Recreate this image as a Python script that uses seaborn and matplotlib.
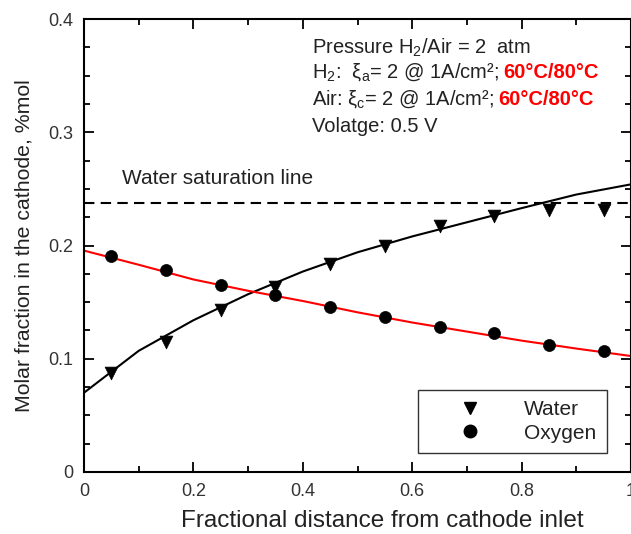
import numpy as np
import pandas as pd
import matplotlib
matplotlib.use("Agg")
import matplotlib.pyplot as plt
import seaborn as sns
from matplotlib.lines import Line2D

# ---- data ----
x_points = [0.05, 0.15, 0.25, 0.35, 0.45, 0.55, 0.65, 0.75, 0.85, 0.95]
water_pts = [0.087, 0.115, 0.143, 0.163, 0.184, 0.200, 0.217, 0.226, 0.231, 0.231]
oxygen_pts = [0.191, 0.178, 0.165, 0.156, 0.146, 0.137, 0.128, 0.123, 0.112, 0.107]

x_line = [0.0, 0.1, 0.2, 0.3, 0.4, 0.5, 0.6, 0.7, 0.8, 0.9, 1.0]
water_line = [0.070, 0.107, 0.134, 0.157, 0.177, 0.194, 0.208, 0.2205, 0.233, 0.245, 0.254]
oxygen_line = [0.1955, 0.183, 0.170, 0.160, 0.151, 0.141, 0.132, 0.124, 0.116, 0.109, 0.1024]

saturation = 0.2375

xticks = [0, 0.2, 0.4, 0.6, 0.8, 1]
xtick_labels = ["0", "0.2", "0.4", "0.6", "0.8", "1"]
yticks = [0, 0.1, 0.2, 0.3, 0.4]
ytick_labels = ["0", "0.1", "0.2", "0.3", "0.4"]

sns.set_style("ticks")
plt.rcParams['font.family'] = ['Liberation Sans', 'DejaVu Sans']
plt.rcParams['mathtext.fontset'] = 'custom'
plt.rcParams['mathtext.rm'] = 'Liberation Sans'
plt.rcParams['mathtext.it'] = 'Liberation Sans'
plt.rcParams['mathtext.bf'] = 'Liberation Sans:bold'

fig = plt.figure(figsize=(6.31, 5.34), dpi=100)
ax = fig.add_axes([84/631, 1 - 472/534, 1 - 84/631, (472 - 19)/534])

pts = pd.DataFrame({"x": x_points, "water": water_pts, "oxygen": oxygen_pts})
lines = pd.DataFrame({"x": x_line, "water": water_line, "oxygen": oxygen_line})

sns.lineplot(data=lines, x="x", y="water", ax=ax, color="black", lw=1.5, zorder=2)
sns.lineplot(data=lines, x="x", y="oxygen", ax=ax, color="red", lw=1.5, zorder=2)
sns.scatterplot(data=pts, x="x", y="water", ax=ax, marker="v", s=85, color="black",
                edgecolor="black", linewidth=0.5, zorder=3)
sns.scatterplot(data=pts, x="x", y="oxygen", ax=ax, marker="o", s=75, color="black",
                edgecolor="black", linewidth=0.5, zorder=3)
ax.axhline(saturation, color="black", lw=1.5, linestyle=(0, (5, 3)), zorder=1)

ax.set_xlim(0, 1)
ax.set_ylim(0, 0.4)
ax.set_xticks(xticks)
ax.set_xticklabels(xtick_labels)
ax.set_yticks(yticks)
ax.set_yticklabels(ytick_labels)
ax.set_xticks(np.arange(0.1, 1.0, 0.2), minor=True)
ax.set_yticks([v for v in np.arange(0.025, 0.4, 0.025) if abs(v / 0.1 - round(v / 0.1)) > 1e-6], minor=True)
ax.tick_params(which="both", direction="in", top=True, right=True, width=1.3, colors="black",
               labelsize=13, labelcolor="#333333")
ax.tick_params(which="major", length=7, pad=8)
ax.tick_params(which="minor", length=4)
for s in ax.spines.values():
    s.set_linewidth(1.5)
    s.set_color("black")

ax.set_xlabel("Fractional distance from cathode inlet", fontsize=17.5, labelpad=7, color="#222222")
ax.xaxis.label.set_x(0.545)
ax.set_ylabel("Molar fraction in the cathode, %mol", fontsize=15.3, labelpad=10, color="#222222")

ax.text(0.069, 0.2596, "Water saturation line", fontsize=15, va="center", ha="left", color="#222222")

fs = 14.5
tx = 0.416
y2, y3 = 0.3482, 0.3244
ax.text(tx, 0.3745, r"Pressure H$_2$/Air = 2  atm", fontsize=fs, va="center", color="#222222")
t2 = ax.text(tx, y2, r"H$_2$:  ξ$_a$= 2 @ 1A/cm²;", fontsize=fs, va="baseline", color="#222222")
t3 = ax.text(tx, y3, r"Air: ξ$_c$= 2 @ 1A/cm²;", fontsize=fs, va="baseline", color="#222222")
ax.text(tx, 0.3050, "Volatge: 0.5 V", fontsize=fs, va="center", color="#222222")

fig.canvas.draw()
renderer = fig.canvas.get_renderer()
inv = ax.transData.inverted()
for t, yb in ((t2, y2), (t3, y3)):
    bb = t.get_window_extent(renderer)
    xr = inv.transform((bb.x1 + 5, bb.y0))[0]
    ax.text(xr, yb, "60°C/80°C", fontsize=fs, va="baseline", ha="left",
            color="red", fontweight="bold")

handles = [Line2D([], [], marker="v", color="black", linestyle="none", markersize=9),
           Line2D([], [], marker="o", color="black", linestyle="none", markersize=9)]
leg = ax.legend(handles, ["Water", "Oxygen"], loc="lower right", bbox_to_anchor=(0.956, 0.042),
                fontsize=15, frameon=True, fancybox=False, edgecolor="black",
                handlelength=4.0, handletextpad=0.6, borderpad=0.5, labelspacing=0.2,
                borderaxespad=0)
leg.get_frame().set_linewidth(1.0)
for t in leg.get_texts():
    t.set_color("#222222")

fig.savefig("out.png", dpi=100)
